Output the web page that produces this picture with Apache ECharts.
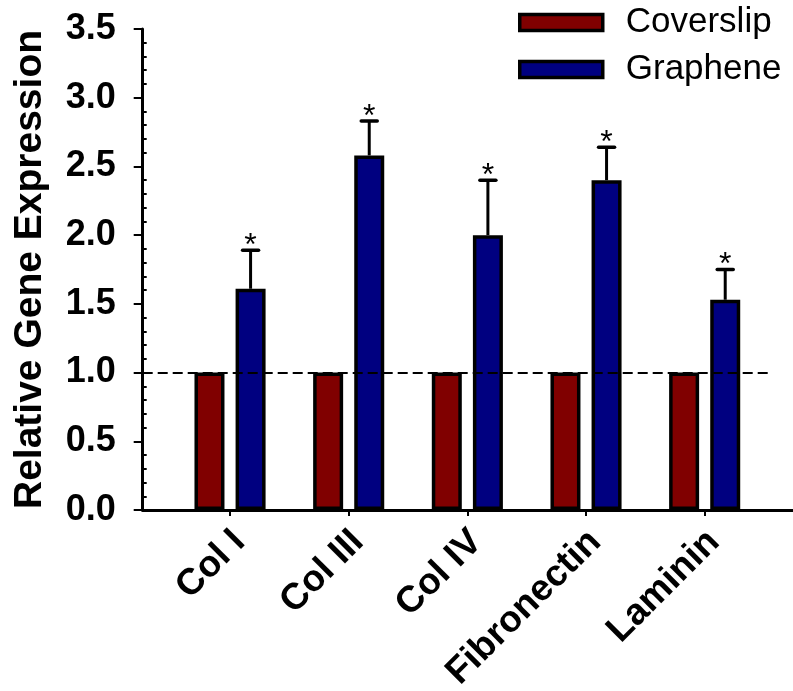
<!DOCTYPE html>
<html>
<head>
<meta charset="utf-8">
<script src="https://cdn.jsdelivr.net/npm/echarts@6/dist/echarts.min.js"></script>
<style>
  html, body { margin: 0; padding: 0; background: #fff; }
  #chart { width: 793px; height: 691px; }
</style>
</head>
<body>
<div id="chart"></div>
<script>
// ECM gene expression, relative to coverslip control
const categories = ['Col I', 'Col III', 'Col IV', 'Fibronectin', 'Laminin'];
const coverslip = [1, 1, 1, 1, 1];
const graphene = [1.61, 2.58, 2.00, 2.40, 1.53];
const grapheneErr = [0.28, 0.25, 0.40, 0.24, 0.22];
const seriesNames = ['Coverslip', 'Graphene'];
const referenceLevel = 1;

const FONT = 'Liberation Sans, Arial, sans-serif';
const BAR_W = 30;
const BAR_GAP = 0.37;                      // fraction of bar width
const GRAPHENE_OFFSET = (BAR_W + BAR_W * BAR_GAP) / 2;

const gridTop = 29, gridBottom = 181;
const axisX = 142.7;

const chart = echarts.init(document.getElementById('chart'), null, { renderer: 'canvas' });

const option = {
  animation: false,
  backgroundColor: '#fff',
  textStyle: { fontFamily: FONT },
  legend: {
    data: seriesNames,
    orient: 'vertical',
    left: 518,
    top: 5,
    padding: 0,
    itemWidth: 83,
    itemHeight: 16,
    itemGap: 12,
    icon: 'rect',
    itemStyle: { borderColor: '#000', borderWidth: 3.5 },
    textStyle: { fontSize: 35, color: '#000', fontFamily: FONT, padding: [0, 0, 0, 18] }
  },
  grid: [
    // frame: full-width x axis line and labelled y axis
    { left: axisX, right: 0, top: gridTop, bottom: gridBottom, outerBoundsMode: 'none', containLabel: false },
    // bar area
    { left: 170.7, right: 29, top: gridTop, bottom: gridBottom, outerBoundsMode: 'none', containLabel: false }
  ],
  xAxis: [
    {
      gridIndex: 0, type: 'value', min: 0, max: 1,
      axisLine: { show: true, lineStyle: { color: '#000', width: 3 } },
      axisTick: { show: false }, axisLabel: { show: false }, splitLine: { show: false }
    },
    {
      gridIndex: 1, type: 'category', data: categories,
      axisLine: { show: false },
      axisTick: { show: true, alignWithLabel: true, length: 6, lineStyle: { color: '#000', width: 2 } },
      axisLabel: {
        rotate: 45, margin: 17, verticalAlign: 'top', lineHeight: 26, color: '#000',
        fontSize: 37, fontWeight: 'bold', fontFamily: FONT
      },
      splitLine: { show: false }
    }
  ],
  yAxis: [
    {
      gridIndex: 0, type: 'value', min: 0, max: 3.5, interval: 0.5, position: 'left',
      name: 'Relative Gene Expression',
      nameLocation: 'middle', nameGap: 93, nameRotate: 90,
      nameTextStyle: { fontSize: 39, fontWeight: 'bold', color: '#000', fontFamily: FONT },
      axisLine: { show: true, lineStyle: { color: '#000', width: 3 } },
      axisTick: { show: true, length: 9, lineStyle: { color: '#000', width: 2 } },
      axisLabel: {
        margin: 27, color: '#000', fontSize: 36, fontWeight: 'bold', fontFamily: FONT,
        formatter: v => v.toFixed(1)
      },
      splitLine: { show: false }
    },
    {
      // minor ticks pointing into the plot
      gridIndex: 0, type: 'value', min: 0, max: 3.5, interval: 0.5, position: 'left', offset: 0,
      axisLine: { show: false },
      axisTick: { show: false, inside: true },
      minorTick: { show: true, splitNumber: 5, length: 4, lineStyle: { color: '#000', width: 2 } },
      axisLabel: { show: false },
      splitLine: { show: false }, minorSplitLine: { show: false }
    },
    {
      gridIndex: 1, type: 'value', min: 0, max: 3.5, show: false
    }
  ],
  series: [
    {
      name: seriesNames[0], type: 'bar', xAxisIndex: 1, yAxisIndex: 2,
      data: coverslip, barWidth: BAR_W, barGap: (BAR_GAP * 100) + '%',
      itemStyle: { color: '#800000', borderColor: '#000', borderWidth: 3.5 },
      z: 2,
      markLine: {
        silent: true, symbol: 'none', z: 5,
        label: { show: false },
        lineStyle: { color: '#000', width: 2, type: [10, 5] },
        data: [[{ x: axisX, yAxis: referenceLevel }, { x: 772, yAxis: referenceLevel }]]
      }
    },
    {
      name: seriesNames[1], type: 'bar', xAxisIndex: 1, yAxisIndex: 2,
      data: graphene, barWidth: BAR_W,
      itemStyle: { color: '#000080', borderColor: '#000', borderWidth: 3.5 },
      z: 2
    },
    {
      // error bars with significance marks on the graphene bars
      type: 'custom', xAxisIndex: 1, yAxisIndex: 2, z: 3, silent: true,
      data: categories.map((c, i) => [i, graphene[i], grapheneErr[i]]),
      encode: { x: 0, y: 1 },
      renderItem: function (params, api) {
        const i = api.value(0), mean = api.value(1), err = api.value(2);
        const base = api.coord([i, mean]);
        const top = api.coord([i, mean + err]);
        const x = base[0] + GRAPHENE_OFFSET;
        return {
          type: 'group',
          children: [
            { type: 'line', shape: { x1: x, y1: base[1], x2: x, y2: top[1] },
              style: { stroke: '#000', lineWidth: 3 } },
            { type: 'line', shape: { x1: x - 8, y1: top[1], x2: x + 8, y2: top[1] },
              style: { stroke: '#000', lineWidth: 3.5, lineCap: 'round' } },
            { type: 'text', x: x, y: top[1] - 4,
              style: { text: '*', textAlign: 'center', textVerticalAlign: 'middle',
                       font: '32px ' + FONT, fill: '#000' } }
          ]
        };
      }
    }
  ]
};

chart.setOption(option);
</script>
</body>
</html>
